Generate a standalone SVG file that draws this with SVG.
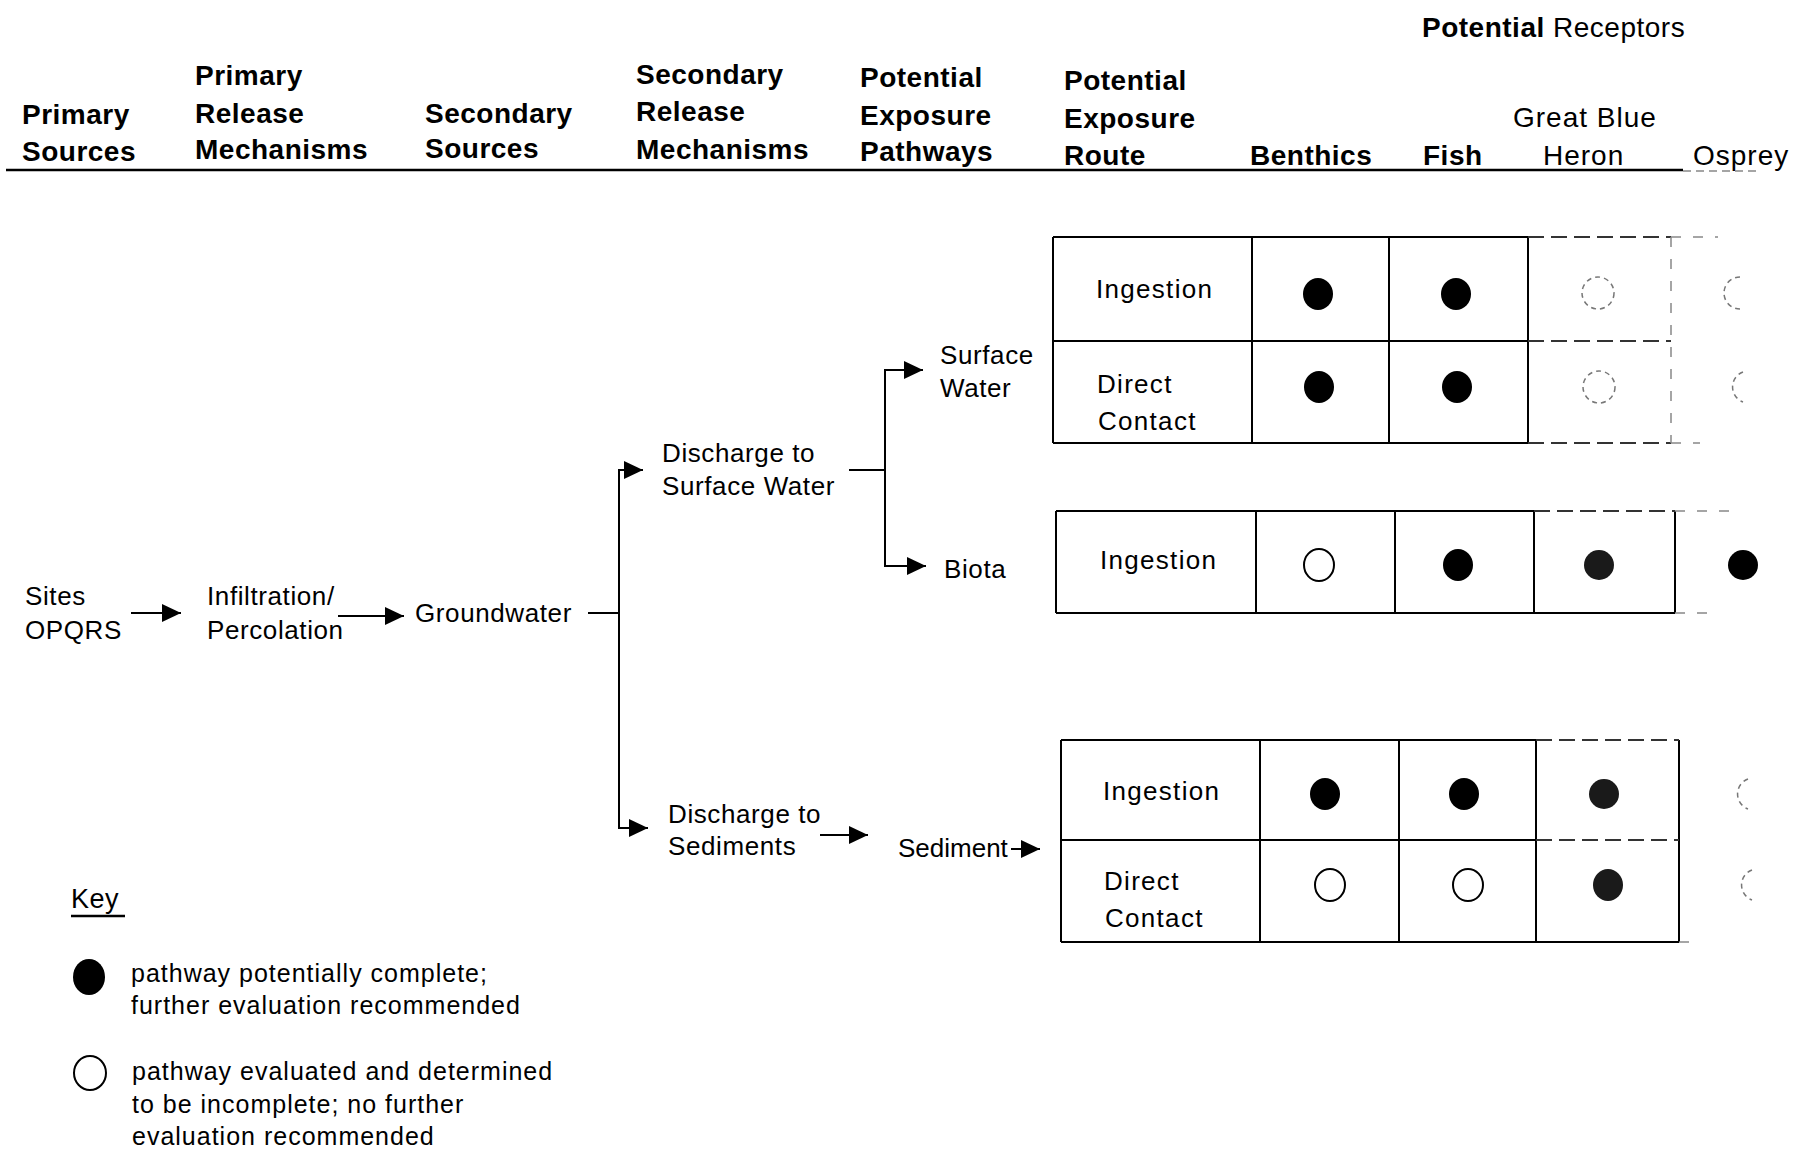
<svg xmlns="http://www.w3.org/2000/svg" width="1796" height="1150" viewBox="0 0 1796 1150">
<defs>
<style>
text{font-family:"Liberation Sans",Arial,sans-serif;fill:#000}
.hdr{font-size:28px;font-weight:bold;letter-spacing:0.5px}
.hdrr{font-size:28px;letter-spacing:1px}
.lbl{font-size:26px;letter-spacing:0.6px}
.cell{font-size:26px;letter-spacing:1.3px}
.key{font-size:25px;letter-spacing:1px}
.grid{stroke:#000;stroke-width:2;fill:none}
.dgrid{stroke:#333;stroke-width:1.8;fill:none;stroke-dasharray:16 7}
.fgrid{stroke:#888;stroke-width:1.5;fill:none;stroke-dasharray:10 12}
.conn{stroke:#000;stroke-width:2;fill:none}
.full{fill:#000}
.mott{fill:#1a1a1a}
.open{fill:none;stroke:#000;stroke-width:2}
.faint{fill:none;stroke:#777;stroke-width:1.5;stroke-dasharray:5 4}
</style>
<marker id="arr" markerUnits="userSpaceOnUse" markerWidth="21" markerHeight="18" refX="19" refY="9" orient="auto">
<path d="M0,0 L19,9 L0,18 Z" fill="#000"/>
</marker>
</defs>
<rect width="1796" height="1150" fill="#fff"/>

<g id="header">
<text class="hdr" x="1422" y="37">Potential <tspan font-weight="normal">Receptors</tspan></text>
<text class="hdr" x="22" y="124">Primary</text>
<text class="hdr" x="22" y="161">Sources</text>
<text class="hdr" x="195" y="85">Primary</text>
<text class="hdr" x="195" y="123">Release</text>
<text class="hdr" x="195" y="159">Mechanisms</text>
<text class="hdr" x="425" y="123">Secondary</text>
<text class="hdr" x="425" y="158">Sources</text>
<text class="hdr" x="636" y="84">Secondary</text>
<text class="hdr" x="636" y="121">Release</text>
<text class="hdr" x="636" y="159">Mechanisms</text>
<text class="hdr" x="860" y="87">Potential</text>
<text class="hdr" x="860" y="125">Exposure</text>
<text class="hdr" x="860" y="161">Pathways</text>
<text class="hdr" x="1064" y="90">Potential</text>
<text class="hdr" x="1064" y="128">Exposure</text>
<text class="hdr" x="1064" y="165">Route</text>
<text class="hdr" x="1250" y="165">Benthics</text>
<text class="hdr" x="1423" y="165">Fish</text>
<text class="hdrr" x="1513" y="127">Great Blue</text>
<text class="hdrr" x="1543" y="165">Heron</text>
<text class="hdrr" x="1693" y="165">Osprey</text>
<line x1="6" y1="170" x2="1683" y2="170" stroke="#000" stroke-width="2.5"/>
<line x1="1683" y1="171" x2="1760" y2="171" stroke="#888" stroke-width="1.5" stroke-dasharray="8 5"/>
</g>

<g id="connectors">
<line class="conn" x1="131" y1="613" x2="181" y2="613" marker-end="url(#arr)"/>
<line class="conn" x1="338" y1="616" x2="404" y2="616" marker-end="url(#arr)"/>
<line class="conn" x1="588" y1="613" x2="619" y2="613"/>
<line class="conn" x1="619" y1="470" x2="619" y2="828"/>
<line class="conn" x1="618" y1="470" x2="643" y2="470" marker-end="url(#arr)"/>
<line class="conn" x1="618" y1="828" x2="648" y2="828" marker-end="url(#arr)"/>
<line class="conn" x1="849" y1="470" x2="885" y2="470"/>
<line class="conn" x1="885" y1="370" x2="885" y2="566"/>
<line class="conn" x1="884" y1="370" x2="923" y2="370" marker-end="url(#arr)"/>
<line class="conn" x1="884" y1="566" x2="926" y2="566" marker-end="url(#arr)"/>
<line class="conn" x1="820" y1="835" x2="868" y2="835" marker-end="url(#arr)"/>
<line class="conn" x1="1011" y1="849" x2="1040" y2="849" marker-end="url(#arr)"/>
</g>

<g id="sites"><text class="lbl" x="25" y="605">Sites</text><text class="lbl" x="25" y="639">OPQRS</text></g>
<g id="infiltration"><text class="lbl" x="207" y="605">Infiltration/</text><text class="lbl" x="207" y="639">Percolation</text></g>
<g id="groundwater"><text class="lbl" x="415" y="622">Groundwater</text></g>
<g id="discharge-sw"><text class="lbl" x="662" y="462">Discharge to</text><text class="lbl" x="662" y="495">Surface Water</text></g>
<g id="discharge-sed"><text class="lbl" x="668" y="823">Discharge to</text><text class="lbl" x="668" y="855">Sediments</text></g>
<g id="surface-water"><text class="lbl" x="940" y="364">Surface</text><text class="lbl" x="940" y="397">Water</text></g>
<g id="biota"><text class="lbl" x="944" y="578">Biota</text></g>
<g id="sediment"><text class="lbl" x="898" y="857" style="letter-spacing:0">Sediment</text></g>

<g id="table-surface-water">
<path class="grid" d="M1053,237 H1528 M1053,341 H1528 M1053,443 H1528 M1053,237 V443 M1252,237 V443 M1389,237 V443 M1528,237 V443"/>
<path class="dgrid" d="M1528,237 H1671 M1528,341 H1671 M1528,443 H1671"/>
<path class="fgrid" d="M1671,237 H1718 M1671,237 V443 M1671,443 H1700"/>
<text class="cell" x="1096" y="298">Ingestion</text>
<text class="cell" x="1097" y="393">Direct</text>
<text class="cell" x="1098" y="430">Contact</text>
<ellipse class="full" cx="1318" cy="294" rx="15" ry="16"/>
<ellipse class="full" cx="1456" cy="294" rx="15" ry="16"/>
<ellipse class="faint" cx="1598" cy="293" rx="16" ry="16"/>
<path class="faint" d="M1740,277 A16,16 0 0 0 1740,309"/>
<ellipse class="full" cx="1319" cy="387" rx="15" ry="16"/>
<ellipse class="full" cx="1457" cy="387" rx="15" ry="16"/>
<ellipse class="faint" cx="1599" cy="387" rx="16" ry="16"/>
<path class="faint" d="M1743,372 A16,16 0 0 0 1743,402"/>
</g>

<g id="table-biota">
<path class="grid" d="M1056,511 H1534 M1056,613 H1675 M1056,511 V613 M1256,511 V613 M1395,511 V613 M1534,511 V613 M1675,511 V613"/>
<path class="dgrid" d="M1534,511 H1675"/>
<path class="fgrid" d="M1675,511 H1735 M1675,613 H1715"/>
<text class="cell" x="1100" y="569">Ingestion</text>
<ellipse class="open" cx="1319" cy="565" rx="15" ry="16"/>
<ellipse class="full" cx="1458" cy="565" rx="15" ry="16"/>
<ellipse class="mott" cx="1599" cy="565" rx="15" ry="15"/>
<ellipse class="full" cx="1743" cy="565" rx="15" ry="15"/>
</g>

<g id="table-sediment">
<path class="grid" d="M1061,740 H1536 M1061,840 H1536 M1061,942 H1679 M1061,740 V942 M1260,740 V942 M1399,740 V942 M1536,740 V942 M1679,740 V942"/>
<path class="dgrid" d="M1536,740 H1679 M1536,840 H1679"/>
<path class="fgrid" d="M1679,942 H1700"/>
<text class="cell" x="1103" y="800">Ingestion</text>
<text class="cell" x="1104" y="890">Direct</text>
<text class="cell" x="1105" y="927">Contact</text>
<ellipse class="full" cx="1325" cy="794" rx="15" ry="16"/>
<ellipse class="full" cx="1464" cy="794" rx="15" ry="16"/>
<ellipse class="mott" cx="1604" cy="794" rx="15" ry="15"/>
<path class="faint" d="M1748,779 A16,16 0 0 0 1748,809"/>
<ellipse class="open" cx="1330" cy="885" rx="15" ry="16"/>
<ellipse class="open" cx="1468" cy="885" rx="15" ry="16"/>
<ellipse class="mott" cx="1608" cy="885" rx="15" ry="16"/>
<path class="faint" d="M1752,870 A16,16 0 0 0 1752,900"/>
</g>

<g id="key">
<text x="71" y="908" style="font-size:27px;letter-spacing:0.5px">Key</text>
<line x1="71" y1="916" x2="125" y2="916" stroke="#000" stroke-width="2.5"/>
<ellipse class="full" cx="89" cy="977" rx="16" ry="18"/>
<text class="key" x="131" y="982">pathway potentially complete;</text>
<text class="key" x="131" y="1014">further evaluation recommended</text>
<ellipse class="open" cx="90" cy="1073" rx="16" ry="17"/>
<text class="key" x="132" y="1080">pathway evaluated and determined</text>
<text class="key" x="132" y="1113">to be incomplete; no further</text>
<text class="key" x="132" y="1145">evaluation recommended</text>
</g>
</svg>
